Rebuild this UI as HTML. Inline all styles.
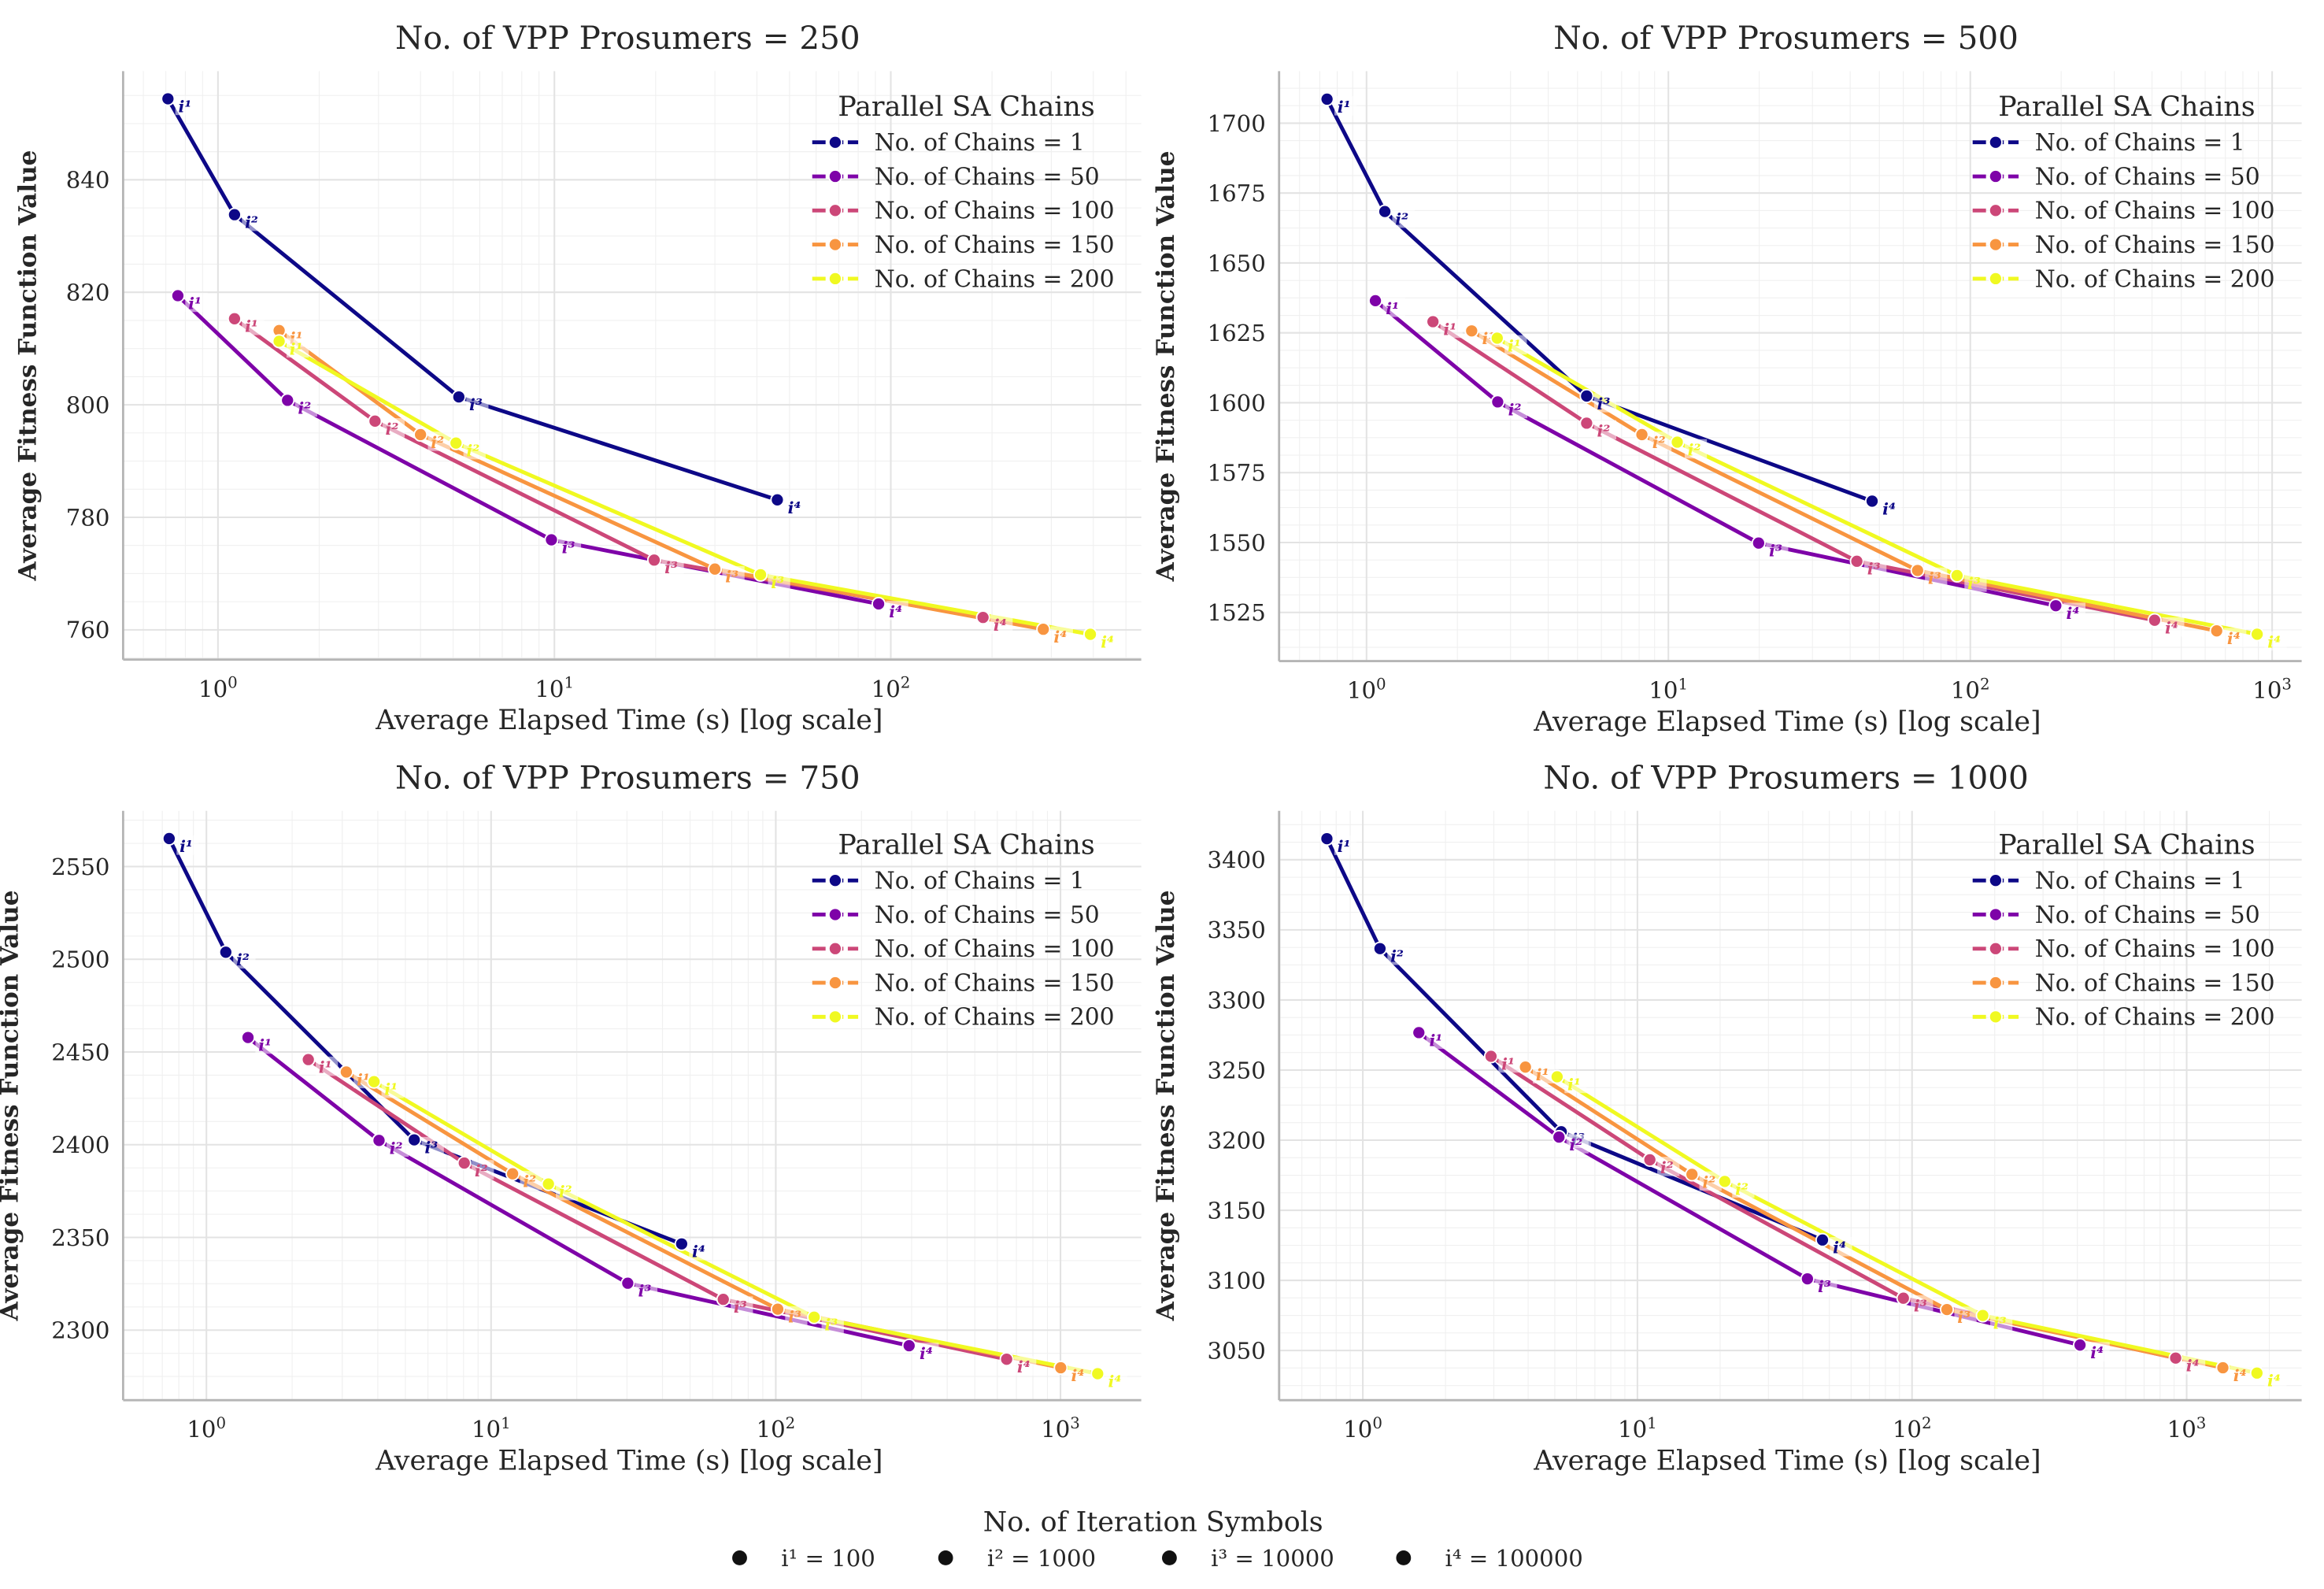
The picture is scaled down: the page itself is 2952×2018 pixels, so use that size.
<!DOCTYPE html>
<html><head><meta charset="utf-8"><style>
html,body{margin:0;padding:0;background:#fff;}
svg{display:block;font-family:"DejaVu Serif","Liberation Serif",serif;}
</style></head><body>
<svg id="fig" width="2952" height="2018" viewBox="0 0 1568 1072" xmlns="http://www.w3.org/2000/svg"></svg>
<script>
// ---- data ----
const chainLabels = ["No. of Chains = 1","No. of Chains = 50","No. of Chains = 100","No. of Chains = 150","No. of Chains = 200"];
const chainColors = ["#0d0887","#7e03a8","#cc4778","#f89540","#f0f921"];
const panelTitles = ["No. of VPP Prosumers = 250","No. of VPP Prosumers = 500","No. of VPP Prosumers = 750","No. of VPP Prosumers = 1000"];
const times250 = [[0.71,1.12,5.2,46],[0.76,1.61,9.8,92],[1.12,2.93,19.8,188],[1.52,4.0,30,284],[1.52,5.1,41,392]];
const values250 = [[854.4,833.8,801.4,783.1],[819.4,800.8,776,764.6],[815.3,797.1,772.4,762.2],[813.2,794.7,770.8,760.1],[811.3,793.2,769.8,759.2]];
const times500 = [[0.74,1.15,5.36,47.3],[1.07,2.72,19.9,192],[1.66,5.36,42.1,408],[2.23,8.17,66.9,655],[2.71,10.7,90.4,892]];
const values500 = [[1708.6,1668.4,1602.4,1564.8],[1636.5,1600.3,1549.8,1527.4],[1629,1592.7,1543.3,1522.2],[1625.7,1588.6,1540,1518.4],[1623.1,1585.9,1538.2,1517.2]];
const times750 = [[0.74,1.17,5.37,46.7],[1.40,4.04,30.2,294],[2.28,8.05,65.4,647],[3.10,11.9,101.6,1002],[3.88,15.9,136.4,1351]];
const values750 = [[2565.1,2503.8,2402.6,2346.5],[2457.8,2402.3,2325.3,2291.6],[2445.9,2390.1,2316.6,2284.3],[2439.2,2384.3,2311.3,2279.7],[2434,2378.8,2307,2276.5]];
const times1000 = [[0.74,1.155,5.28,47.2],[1.60,5.18,41.6,409],[2.93,11.1,93,912],[3.91,15.8,134,1355],[5.10,20.8,181,1803]];
const values1000 = [[3415,3336.6,3206,3128.8],[3276.7,3202.2,3101.1,3053.9],[3259.8,3186,3087.3,3044.6],[3252.1,3175.6,3079.2,3037.7],[3245.2,3170.6,3075,3033.9]];
const yTicks250 = [760,780,800,820,840];
const yTicks500 = [1525,1550,1575,1600,1625,1650,1675,1700];
const yTicks750 = [2300,2350,2400,2450,2500,2550];
const yTicks1000 = [3050,3100,3150,3200,3250,3300,3350,3400];
const xDecades250 = [0,1,2];
const xDecadesOther = [0,1,2,3];
const iterSup = ["¹","²","³","⁴"];
const iterLegend = ["i¹ = 100","i² = 1000","i³ = 10000","i⁴ = 100000"];

// ---- layout ----
const panels = [
 {times:times250,values:values250,yt:yTicks250,xd:xDecades250,L:83,R:770,T:48,B:445,x0:147,dec:227,yRef:840,yRefPx:121.3,ppu:3.795,yMinorStep:5,legY:71},
 {times:times500,values:values500,yt:yTicks500,xd:xDecadesOther,L:863,R:1553,T:48,B:446,x0:922,dec:203.7,yRef:1700,yRefPx:83.1,ppu:1.886,yMinorStep:6.25,legY:71},
 {times:times750,values:values750,yt:yTicks750,xd:xDecadesOther,L:83,R:770,T:547,B:944.6,x0:139.2,dec:192.1,yRef:2550,yRefPx:584.6,ppu:1.251,yMinorStep:12.5,legY:569},
 {times:times1000,values:values1000,yt:yTicks1000,xd:xDecadesOther,L:863,R:1553,T:547,B:944.6,x0:919.5,dec:185.3,yRef:3400,yRefPx:580,ppu:0.946,yMinorStep:12.5,legY:569}
];
const svg = document.getElementById('fig');
const NS = "http://www.w3.org/2000/svg";
function mk(tag, attrs, parent){const e=document.createElementNS(NS,tag);for(const k in attrs)e.setAttribute(k,attrs[k]);(parent||svg).appendChild(e);return e;}

panels.forEach((p,pi)=>{
  const g = mk('g',{});
  
  
  const X = t => p.x0 + p.dec*Math.log10(t);
  const Y = v => p.yRefPx + (p.yRef - v)*p.ppu;
  const clip = 'clip'+pi;
  const cp = mk('clipPath',{id:clip},g); mk('rect',{x:p.L,y:p.T-10,width:p.R-p.L+10,height:p.B-p.T+10},cp);
  for(let d=-1; d<=4; d++){for(let m=2;m<=9;m++){const x=X(m*Math.pow(10,d)); if(x>p.L&&x<p.R){mk('line',{x1:x,x2:x,y1:p.T,y2:p.B,stroke:'#f0f0f0','stroke-width':0.6},g);}}}
  const vTop = p.yRef + (p.yRefPx - p.T)/p.ppu, vBot = p.yRef - (p.B - p.yRefPx)/p.ppu;
  for(let v=Math.ceil(vBot/p.yMinorStep)*p.yMinorStep; v<vTop; v+=p.yMinorStep){const y=Y(v); mk('line',{x1:p.L,x2:p.R,y1:y,y2:y,stroke:'#f0f0f0','stroke-width':0.6},g);}
  p.xd.forEach(d=>{const x=X(Math.pow(10,d));
    const gl=mk('line',{x1:x,x2:x,y1:p.T,y2:p.B,stroke:'#e3e3e3','stroke-width':1.1},g);
     
    const tx=mk('text',{x:x,y:p.B+25,'text-anchor':'middle','font-size':15.5,fill:'#262626'},g);
     
    tx.appendChild(document.createTextNode('10'));
    const s=mk('tspan',{dy:-6,'font-size':10.5},tx); s.textContent=String(d);
  });
  p.yt.forEach(v=>{const y=Y(v);
    const gl=mk('line',{x1:p.L,x2:p.R,y1:y,y2:y,stroke:'#e3e3e3','stroke-width':1.1},g);
     
    const tx=mk('text',{x:p.L-9,y:y+5.5,'text-anchor':'end','font-size':15.5,fill:'#262626'},g);
     
    tx.textContent=String(v);
  });
  const sp1=mk('line',{x1:p.L,x2:p.L,y1:p.T,y2:p.B,stroke:'#b5b5b5','stroke-width':1.5},g);
   
  const sp2=mk('line',{x1:p.L,x2:p.R,y1:p.B,y2:p.B,stroke:'#b5b5b5','stroke-width':1.5},g);
   
  const cx=(p.L+p.R)/2;
  const tt=mk('text',{x:cx-3,y:p.T-15,'text-anchor':'middle','font-size':21.5,fill:'#262626'},g);
    tt.textContent=panelTitles[pi];
  const xl=mk('text',{x:cx-2,y:p.B+47,'text-anchor':'middle','font-size':18.5,fill:'#262626'},g);
    xl.textContent='Average Elapsed Time (s) [log scale]';
  const ym=(p.T+p.B)/2, yx=p.L-(pi===0?59:71);
  const yl=mk('text',{x:yx,y:ym,'text-anchor':'middle','font-size':16.5,'font-weight':'bold',fill:'#262626',transform:`rotate(-90 ${yx} ${ym})`},g);
    yl.textContent='Average Fitness Function Value';
  const sg = mk('g',{'clip-path':`url(#${clip})`},g);
  p.times.forEach((ts,ci)=>{
    const pts = ts.map((t,k)=>[X(t),Y(p.values[ci][k])]);
    const pl=mk('polyline',{points:pts.map(q=>q.join(',')).join(' '),fill:'none',stroke:chainColors[ci],'stroke-width':2.6,'stroke-linejoin':'round'},sg);
     
  });
  p.times.forEach((ts,ci)=>{
    ts.forEach((t,k)=>{
      const x=X(t), y=Y(p.values[ci][k]);
      mk('rect',{x:x+5,y:y-2,width:15,height:13,fill:'#fff','fill-opacity':0.55},sg);
      const c=mk('circle',{cx:x,cy:y,r:4.3,fill:chainColors[ci],stroke:'#fff','stroke-width':1},sg);
       
      const lb=mk('text',{x:x+7,y:y+9,'font-size':11,'font-style':'italic','font-weight':'bold',fill:chainColors[ci]},sg);
       
      lb.textContent='i'+iterSup[k];
    });
  });
  const lg = mk('g',{},g);
   
  const lx = p.R-222;
  const lt=mk('text',{x:lx+104,y:p.legY+7,'text-anchor':'middle','font-size':18.5,fill:'#262626'},lg);
    lt.textContent='Parallel SA Chains';
  chainLabels.forEach((lab,ci)=>{
    const y=p.legY+25+ci*23;
    const e=mk('g',{},lg);
     
    mk('line',{x1:lx,x2:lx+31,y1:y,y2:y,stroke:chainColors[ci],'stroke-width':2.6,'stroke-dasharray':'9,3'},e);
    mk('circle',{cx:lx+15.5,cy:y,r:4.3,fill:chainColors[ci],stroke:'#fff','stroke-width':1},e);
    const t=mk('text',{x:lx+42,y:y+5.5,'font-size':15.8,fill:'#262626'},e); t.textContent=lab;
  });
});
const bl = mk('g',{});
 
const blt=mk('text',{x:778,y:1033,'text-anchor':'middle','font-size':18.5,fill:'#262626'},bl);
  blt.textContent='No. of Iteration Symbols';
const dotX=[499,638,789,947];
iterLegend.forEach((lab,k)=>{
  const e=mk('g',{},bl);
   
  mk('circle',{cx:dotX[k],cy:1051,r:5,fill:'#111'},e);
  const t=mk('text',{x:dotX[k]+28,y:1056.5,'font-size':15.5,fill:'#262626'},e); t.textContent=lab;
});
</script>
</body></html>
